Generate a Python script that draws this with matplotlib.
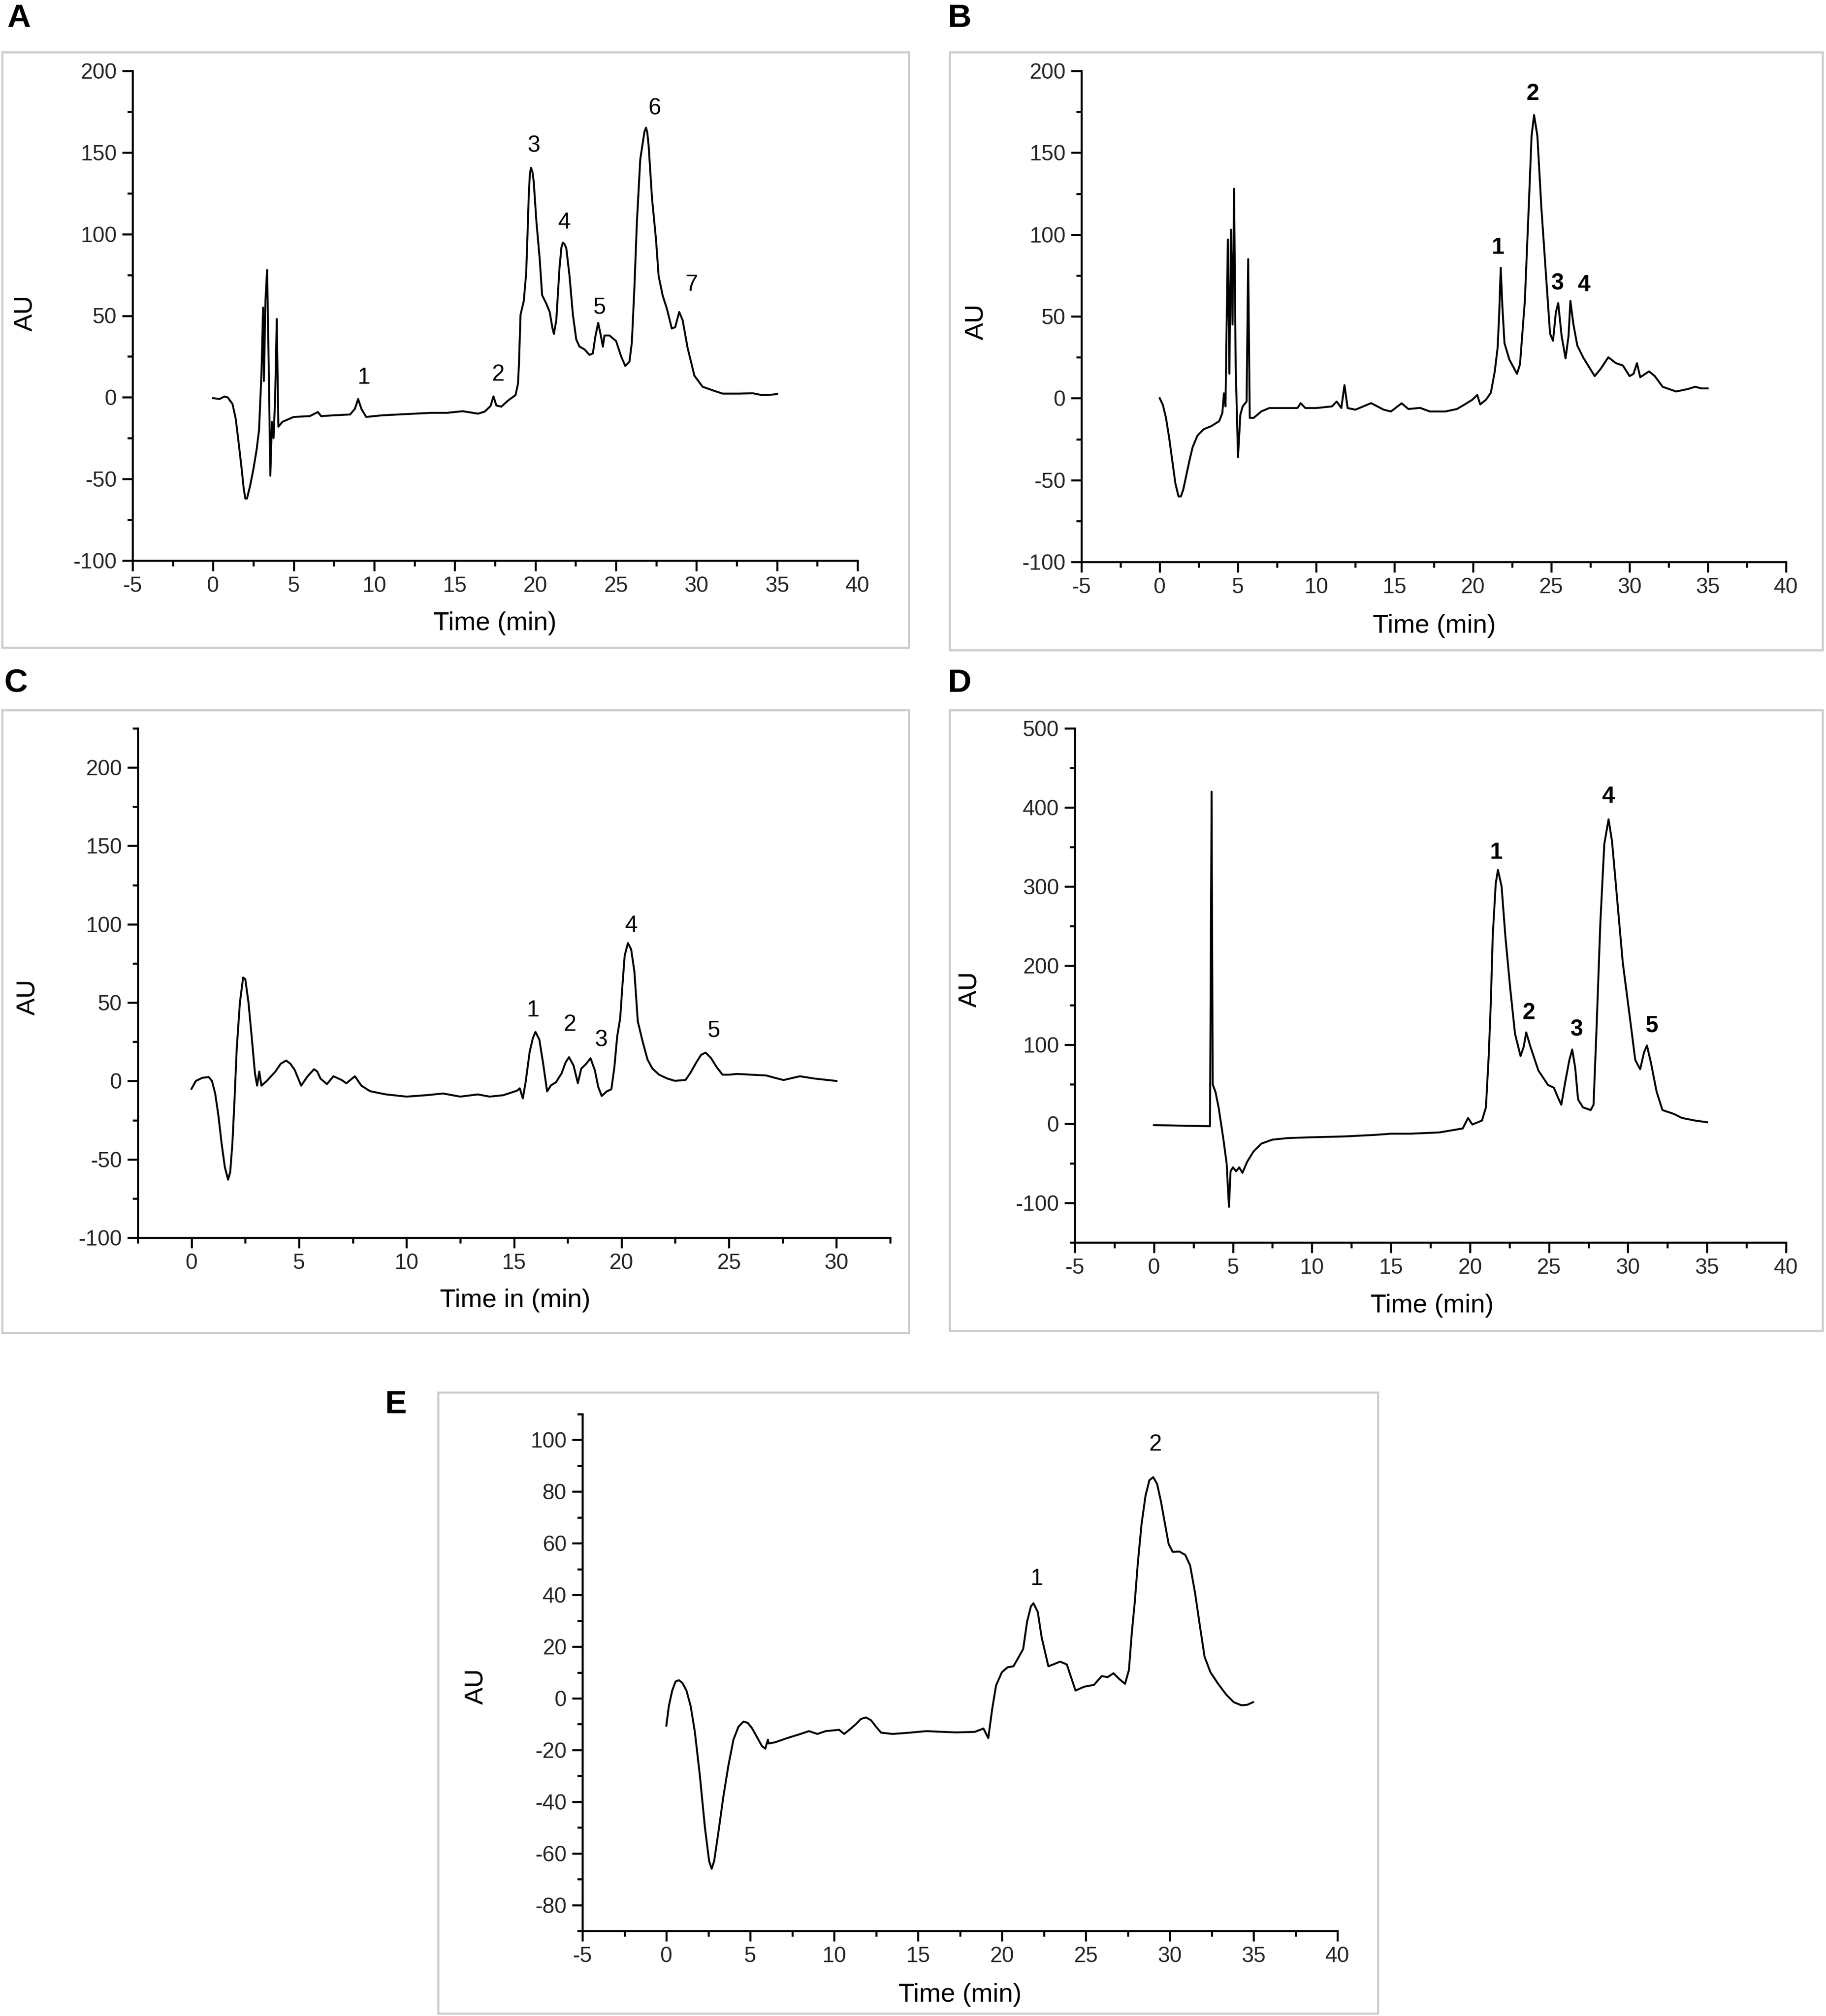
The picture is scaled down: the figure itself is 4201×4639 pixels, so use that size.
import matplotlib
matplotlib.use("Agg")
import matplotlib.pyplot as plt
from matplotlib.ticker import MultipleLocator
from matplotlib.patches import Rectangle

plt.rcParams['font.family'] = ['Liberation Sans', 'DejaVu Sans']
plt.rcParams['axes.unicode_minus'] = False

# ---------------- data ----------------
a_time = [0, 0.4, 0.7, 0.9, 1.2, 1.4, 1.55, 1.75, 1.9, 2.0, 2.1, 2.3, 2.5, 2.7, 2.85, 3.0,
          3.1, 3.15, 3.25, 3.35, 3.45, 3.55, 3.65, 3.75, 3.85, 3.95, 4.05, 4.3, 5.0, 6.0,
          6.5, 6.7, 7.5, 8.5, 8.8, 9.0, 9.2, 9.5, 10.5, 11.5, 12.5, 13.5, 14.5, 15.5, 16.45,
          16.86, 17.22, 17.4, 17.58, 17.89, 18.3, 18.77, 18.92, 18.98, 19.08, 19.28, 19.43,
          19.52, 19.59, 19.66, 19.73, 19.82, 19.9, 20.06, 20.27, 20.42, 20.68, 20.89, 21.05,
          21.15, 21.3, 21.5, 21.62, 21.71, 21.8, 21.92, 22.12, 22.33, 22.54, 22.74, 23.05,
          23.36, 23.57, 23.72, 23.9, 24.08, 24.19, 24.29, 24.6, 25.01, 25.32, 25.58, 25.84,
          25.99, 26.15, 26.3, 26.51, 26.77, 26.87, 26.95, 27.03, 27.24, 27.49, 27.65, 27.9,
          28.17, 28.47, 28.68, 28.93, 29.14, 29.45, 29.87, 30.38, 31.1, 31.62, 32.63, 33.5,
          34.0, 34.5, 35.0]
a_au = [-0.5, -1, 0.5, 0, -4, -13, -25, -42, -56, -62, -62, -54, -44, -32, -20, 15,
        55, 10, 60, 78, 20, -48, -15, -25, 0, 48, -18, -15, -12, -11.5,
        -9, -11.5, -11, -10.5, -7, -1, -7, -12, -11, -10.5, -10, -9.5, -9.5, -8.5, -10,
        -8.7, -5.3, 0.6, -5, -5.7, -2, 1.4, 8.2, 20, 50.6, 59, 76,
        101.6, 123.6, 137, 140.6, 138, 132, 108.4, 84.7, 62.6, 57.4, 52.3, 43,
        38.8, 47.3, 79.5, 92, 94.8, 94, 91.4, 74.4, 50.6, 35.4, 31.1, 29.4,
        26, 26.9, 37.1, 45.6, 37.1, 31, 37.9, 37.9, 34.5, 25.2, 19.2, 21.8,
        33.7, 67.7, 106.7, 145.7, 162.7, 165.2, 162, 154.2, 122, 96.5, 74.4, 62.5,
        54.1, 42.1, 43, 52.3, 47.3, 30.3, 13.3, 6.5, 4, 2.3, 2.3, 2.5,
        1.5, 1.5, 2]
a_peak_labels = ['1', '2', '3', '4', '5', '6', '7']
a_peak_t = [9.36, 17.7, 19.9, 21.8, 24.0, 27.4, 29.7]
a_peak_y = [12, 14, 154, 107, 55, 177, 69]

b_time = [0, 0.2, 0.4, 0.6, 0.8, 1.0, 1.2, 1.35, 1.5, 1.7, 1.9, 2.1, 2.4, 2.8, 3.3, 3.8,
          4.0, 4.1, 4.2, 4.35, 4.45, 4.55, 4.65, 4.75, 4.85, 5.0, 5.15, 5.3, 5.55, 5.65,
          5.75, 6.0, 6.5, 7.0, 8.0, 8.8, 9.0, 9.3, 10.0, 11.0, 11.3, 11.6, 11.8, 12.0, 12.5,
          13.5, 14.3, 14.77, 15.45, 15.88, 16.63, 17.25, 18.24, 18.98, 19.48, 19.97, 20.28,
          20.47, 20.84, 21.15, 21.4, 21.58, 21.68, 21.78, 21.89, 22.02, 22.33, 22.82, 23.01,
          23.32, 23.57, 23.75, 23.91, 24.12, 24.37, 24.68, 24.93, 25.12, 25.3, 25.45, 25.67,
          25.92, 26.11, 26.23, 26.42, 26.67, 27.04, 27.78, 28.15, 28.65, 29.14, 29.58, 30.01,
          30.26, 30.48, 30.69, 31.25, 31.62, 32.12, 32.98, 33.73, 34.2, 34.6, 35.0]
b_au = [0, -4, -12, -24, -38, -52, -60, -60, -56, -47, -38, -30, -23, -19, -17, -14,
        -9, 3, -5, 97, 15, 103, 45, 128, 20, -36, -10, -5, -2, 85,
        -12, -12, -8, -6, -6, -6, -3, -6, -6, -5, -2, -6, 8, -6, -7,
        -3, -7, -8.1, -3.1, -6.6, -5.9, -8.1, -8.1, -6.6, -3.8, -0.9, 2,
        -3.8, -0.9, 3.4, 16.4, 30.8, 50.9, 79.7, 55.2, 33.6, 23.6, 14.9, 20.7,
        59.5, 117.1, 160.3, 173, 160.3, 117.1, 73.9, 39.4, 35.1, 52.4, 58.1, 38,
        24.3, 38, 59.5, 45.2, 32.2, 25, 13.5, 17.8, 25, 21.4, 20, 13.5,
        14.9, 21.4, 12.8, 16.4, 13.5, 7, 4.1, 5.6, 7, 6, 6]
b_peak_labels = ['1', '2', '3', '4']
b_peak_t = [21.6, 23.8, 25.4, 27.1]
b_peak_y = [92, 186, 70, 69]

c_time = [0, 0.2, 0.5, 0.8, 0.95, 1.1, 1.25, 1.4, 1.55, 1.7, 1.8, 1.9, 2.0, 2.1, 2.25, 2.4,
          2.5, 2.65, 2.8, 2.95, 3.05, 3.15, 3.25, 3.5, 3.9, 4.15, 4.4, 4.6, 4.8, 5.1, 5.4,
          5.7, 5.85, 6.0, 6.3, 6.6, 7.0, 7.2, 7.6, 7.9, 8.3, 9.0, 10.0, 11.0, 11.7, 12.5,
          13.32, 13.87, 14.5, 15.14, 15.27, 15.41, 15.54, 15.73, 15.88, 16.0, 16.18, 16.36,
          16.54, 16.72, 16.95, 17.22, 17.4, 17.56, 17.77, 17.97, 18.13, 18.35, 18.56, 18.76,
          18.92, 19.08, 19.31, 19.53, 19.67, 19.8, 19.94, 20.05, 20.15, 20.3, 20.45, 20.6,
          20.76, 20.98, 21.21, 21.44, 21.75, 22.12, 22.48, 22.98, 23.2, 23.48, 23.7, 23.91,
          24.16, 24.43, 24.7, 25.02, 25.38, 26.02, 26.74, 27.19, 27.54, 28.3, 29.0, 30.0]
c_au = [-5, 0, 2, 2.5, 0, -8, -22, -40, -55, -63, -58, -40, -12, 20, 50, 66,
        65, 50, 28, 5, -3, 6, -3, 0, 6, 11, 13, 11, 7, -3, 3,
        7.5, 6, 1.5, -2, 3, 0.5, -1.5, 3, -3, -6.5, -8.5, -10, -9, -8, -10,
        -8.6, -10, -9.1, -6.2, -4.7, -11.1, -0.9, 18.6, 27.4, 31.3, 26.4, 10.8,
        -6.7, -2.8, -0.9, 5, 11.8, 15.2, 9.9, -1.4, 7.9, 10.8, 14.5, 6.9,
        -3.8, -9.6, -6.7, -5.3, 8.8, 28.3, 40, 62, 80, 88, 84, 70,
        38, 25.4, 13.7, 7.9, 4, 1.6, 0.1, 0.6, 5, 11.8, 16.6, 18.1,
        14.7, 8.8, 4, 4, 4.5, 4, 3.5, 1.8, 0.6, 3, 1.5, 0]
c_peak_labels = ['1', '2', '3', '4', '5']
c_peak_t = [15.9, 17.6, 19.05, 20.46, 24.3]
c_peak_y = [45, 36, 26, 99, 32]

d_time = [0, 1, 2, 3.5, 3.55, 3.65, 3.72, 3.9, 4.1, 4.4, 4.6, 4.75, 4.85, 5.0, 5.2, 5.4,
          5.6, 5.9, 6.3, 6.8, 7.5, 8.5, 10, 12, 14, 14.99, 16.22, 18.06, 19.54, 19.88,
          20.15, 20.76, 21.01, 21.19, 21.32, 21.44, 21.63, 21.77, 22.0, 22.24, 22.55, 22.85,
          23.2, 23.4, 23.56, 23.83, 24.33, 24.94, 25.31, 25.55, 25.78, 26.04, 26.29, 26.47,
          26.66, 26.84, 27.15, 27.64, 27.82, 28.01, 28.25, 28.5, 28.77, 28.99, 29.3, 29.67,
          30.1, 30.46, 30.77, 31.02, 31.2, 31.45, 31.81, 32.18, 32.92, 33.41, 34.25, 35.0]
d_au = [-1.7, -2, -2.5, -3, -3, 420, 50, 40, 20, -20, -50, -105, -60, -55, -60, -55,
        -62, -48, -35, -25, -20, -18, -17, -16, -14, -12.5, -12.5, -10.9, -5.9, 7.4,
        -0.9, 4.1, 20.8, 87.4, 153.9, 237.1, 303.7, 321, 300.4, 237.1, 170.6, 114,
        85.7, 97.3, 115.6, 97.3, 67.4, 49.1, 45.7, 34.1, 24.1, 54.1, 80.7, 94,
        70.7, 30.8, 20.8, 17.4, 24.1, 120.6, 253.8, 353.6, 385, 357, 287.1, 203.8,
        137.3, 80.7, 69, 90.7, 99, 77.4, 40.7, 17.4, 12.4, 7.4, 4.1, 2]
d_peak_labels = ['1', '2', '3', '4', '5']
d_peak_t = [21.65, 23.7, 26.76, 28.74, 31.5]
d_peak_y = [343, 140, 119, 414, 124]

e_time = [0, 0.15, 0.35, 0.55, 0.75, 0.95, 1.2, 1.45, 1.7, 2.0, 2.3, 2.55, 2.7, 2.85, 3.1,
          3.4, 3.7, 4.0, 4.3, 4.6, 4.85, 5.1, 5.4, 5.7, 5.9, 6.05, 6.1, 6.5, 7.2, 8.0, 8.5,
          9.0, 9.5, 10.3, 10.6, 11.0, 11.3, 11.6, 11.9, 12.2, 12.5, 12.8, 13.5, 14.5, 15.5,
          16.5, 17.28, 18.38, 18.9, 19.19, 19.42, 19.65, 20.0, 20.34, 20.69, 20.98, 21.27,
          21.5, 21.73, 21.88, 22.14, 22.37, 22.77, 23.06, 23.47, 23.87, 24.1, 24.39, 24.91,
          25.49, 25.95, 26.3, 26.65, 26.99, 27.34, 27.57, 27.75, 27.92, 28.1, 28.32, 28.56,
          28.79, 29.02, 29.25, 29.48, 29.71, 29.94, 30.18, 30.58, 30.93, 31.22, 31.51, 31.8,
          32.08, 32.43, 32.89, 33.36, 33.82, 34.28, 34.63, 34.97]
e_au = [-10.6, -3, 3, 6.5, 7, 6, 3, -3, -13, -30, -50, -63, -66, -63, -52,
        -38, -26, -16, -11, -9, -9.5, -11.5, -15, -18.5, -19.5, -16, -17.5, -17, -15.4, -13.8, -12.7,
        -13.8, -12.7, -12.2, -13.8, -11.7, -10, -8, -7.4, -8.5, -11, -13.3, -13.8, -13.3, -12.7,
        -13, -13.2, -13, -11.7, -15.4, -4.2, 4.9, 10.1, 12, 12.4, 15.7, 19.1,
        29.6, 35.6, 36.8, 33.4, 23.6, 12.4, 13.1, 14.2, 13.1, 8.6, 3, 4.5,
        5.2, 8.6, 8.2, 9.7, 7.5, 5.6, 10.9, 25.9, 37.2, 52.2, 67.2, 78.4,
        84.4, 85.6, 83, 76.2, 67.9, 59.7, 56.7, 56.8, 55.5, 51.4, 40.9, 28.1,
        16.1, 10.1, 5.6, 1.5, -1.5, -2.7, -2.5, -1.5]
e_peak_labels = ['1', '2']
e_peak_t = [22.1, 29.15]
e_peak_y = [46.2, 98.2]

# ---------------- figure ----------------
W, H = 4201, 4639
fig = plt.figure(figsize=(W / 100, H / 100), dpi=100)
fig.patch.set_facecolor('white')


def fx(px):
    return px / W


def fy(py):
    return 1 - py / H


def add_border(x0, y0, x1, y1):
    fig.patches.append(Rectangle((fx(x0), fy(y1)), fx(x1) - fx(x0), fy(y0) - fy(y1),
                                 transform=fig.transFigure, fill=False,
                                 edgecolor='#cccccc', linewidth=3.4, zorder=0))


def make_axes(l, t, r, b):
    return fig.add_axes([fx(l), fy(b), fx(r) - fx(l), fy(t) - fy(b)])


TICK_FS = 36
LAB_FS = 43
PEAK_FS = 38


def style(ax, xlim, ylim, xmaj, xmin, ymaj, ymin, xlabel, l, t, r, b, au_xy, time_xy):
    ax.set_xlim(*xlim)
    ax.set_ylim(*ylim)
    ax.xaxis.set_major_locator(MultipleLocator(xmaj))
    ax.xaxis.set_minor_locator(MultipleLocator(xmin))
    ax.yaxis.set_major_locator(MultipleLocator(ymaj))
    ax.yaxis.set_minor_locator(MultipleLocator(ymin))
    for s in ['top', 'right']:
        ax.spines[s].set_visible(False)
    for s in ['left', 'bottom']:
        ax.spines[s].set_linewidth(3.3)
    ax.tick_params(which='major', direction='out', length=17, width=3.3,
                   labelsize=TICK_FS, labelcolor='#262626', pad=9)
    ax.tick_params(which='minor', direction='out', length=9, width=3.3)
    ax.set_xlabel(xlabel, fontsize=LAB_FS)
    ax.set_ylabel('AU', fontsize=LAB_FS)
    ax.xaxis.set_label_coords((time_xy[0] - l) / (r - l), (b - time_xy[1]) / (b - t))
    ax.yaxis.set_label_coords((au_xy[0] - l) / (r - l), (b - au_xy[1]) / (b - t))
    ax.xaxis.label.set_va('center')
    ax.yaxis.label.set_va('center')
    ax.yaxis.label.set_ha('center')


def panel(letter, lx, ly, border, box, t, y, labels, pt, py, bold, lims, xlabel, au_xy, time_xy):
    add_border(*border)
    fig.text(fx(lx), fy(ly), letter, fontsize=54, fontweight='bold', ha='left', va='top')
    ax = make_axes(*box)
    ax.plot(t, y, color='black', linewidth=3.2, solid_joinstyle='round')
    for s, xx, yy in zip(labels, pt, py):
        ax.text(xx, yy, s, fontsize=PEAK_FS, ha='center', va='center',
                fontweight='bold' if bold else 'normal')
    style(ax, *lims, xlabel, *box, au_xy, time_xy)
    return ax


panel('A', 16, 8, (5, 120, 2091, 1490), (305, 163, 1973, 1290),
      a_time, a_au, a_peak_labels, a_peak_t, a_peak_y, False,
      ((-5, 40), (-100, 200), 5, 2.5, 50, 25), 'Time (min)', (58, 720), (1139, 1435))

panel('B', 2181, 8, (2185, 120, 4193, 1496), (2488, 163, 4109, 1293),
      b_time, b_au, b_peak_labels, b_peak_t, b_peak_y, True,
      ((-5, 40), (-100, 200), 5, 2.5, 50, 25), 'Time (min)', (2246, 740), (3300, 1440))

panel('C', 10, 1538, (5, 1634, 2091, 3067), (317, 1676, 2048, 2848),
      c_time, c_au, c_peak_labels, c_peak_t, c_peak_y, False,
      ((-2.5, 32.5), (-100, 225), 5, 2.5, 50, 25), 'Time in (min)', (64, 2294), (1185, 2993))

panel('D', 2181, 1538, (2185, 1634, 4193, 3062), (2473, 1676, 4109, 2859),
      d_time, d_au, d_peak_labels, d_peak_t, d_peak_y, True,
      ((-5, 40), (-150, 500), 5, 2.5, 100, 50), 'Time (min)', (2231, 2276), (3295, 3005))

panel('E', 886, 3198, (1008, 3204, 3170, 4633), (1340, 3254, 3077, 4443),
      e_time, e_au, e_peak_labels, e_peak_t, e_peak_y, False,
      ((-5, 40), (-90, 110), 5, 2.5, 20, 10), 'Time (min)', (1095, 3881), (2209, 4590))

fig.savefig('out.png', dpi=100, facecolor='white')
